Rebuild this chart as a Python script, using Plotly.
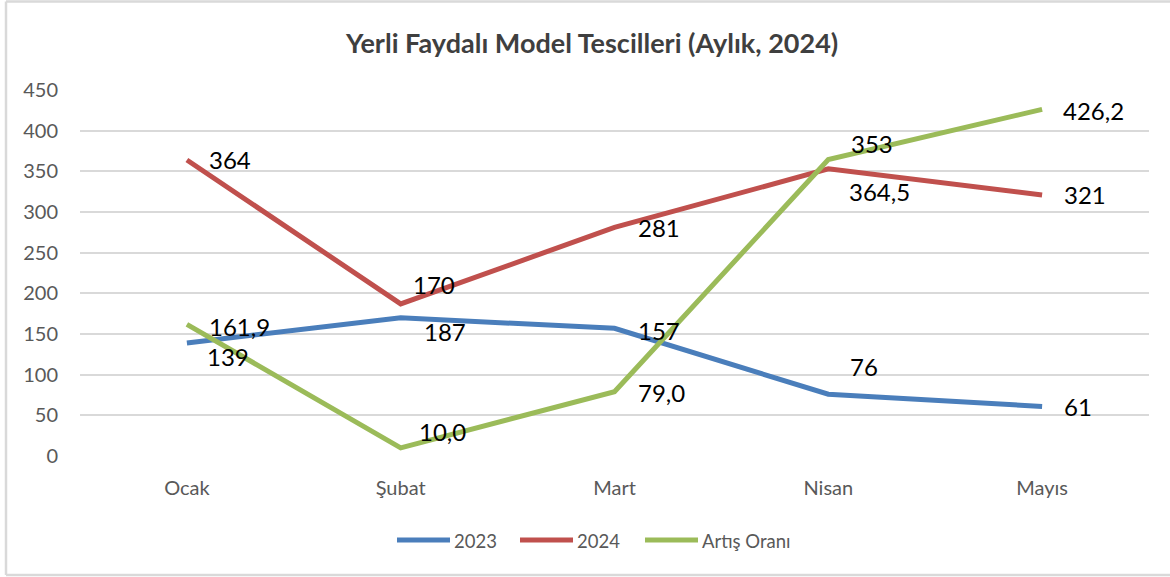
import plotly.graph_objects as go

months = ["Ocak", "Şubat", "Mart", "Nisan", "Mayıs"]
s2023 = [139, 170, 157, 76, 61]
s2024 = [364, 187, 281, 353, 321]
artis = [161.9, 10.0, 79.0, 364.5, 426.2]
lbl2023 = ["139", "187", "157", "76", "61"]
lbl2024 = ["364", "170", "281", "353", "321"]
lblArtis = ["161,9", "10,0", "79,0", "364,5", "426,2"]
yticks = [0, 50, 100, 150, 200, 250, 300, 350, 400, 450]

W, H = 1170, 577
L, R, T, B = 80, 21, 90, 121
PW, PH = W - L - R, H - T - B

def px(x):
    return (x - L) / PW

def py(y):
    return (H - B - y) / PH

FONT = "Lato"
series = [
    ("2023", s2023, lbl2023, "#4a7ebb", [(20, -14), (23, -14), (23, -2), (22, 28), (22, 0)]),
    ("2024", s2024, lbl2024, "#c0504d", [(22, 0), (12, 19), (23, 0), (23, 25), (22, 0)]),
    ("Artış Oranı", artis, lblArtis, "#9bbb59", [(22, -2), (18, 16), (23, -1), (21, -32), (21, -1)]),
]

fig = go.Figure()
annotations = []
for name, vals, lbls, color, offs in series:
    fig.add_trace(go.Scatter(
        x=months, y=vals, mode="lines", name=name,
        line=dict(color=color, width=5), showlegend=False,
    ))
    for m, v, t, (dx, dy) in zip(months, vals, lbls, offs):
        annotations.append(dict(
            x=m, y=v, xref="x", yref="y", text=t, showarrow=False,
            xanchor="left", yanchor="middle", xshift=dx - 2, yshift=dy,
            font=dict(family=FONT, size=24, color="#000000"),
        ))

# manual legend
legend_items = [("2023", "#4a7ebb", 397, 450, 452), ("2024", "#c0504d", 520, 573, 575),
                ("Artış Oranı", "#9bbb59", 645, 698, 700)]
shapes = []
for name, color, x0, x1, tx in legend_items:
    shapes.append(dict(type="line", xref="paper", yref="paper",
                       x0=px(x0), x1=px(x1), y0=py(540), y1=py(540),
                       line=dict(color=color, width=5)))
    annotations.append(dict(x=px(tx), y=py(541), xref="paper", yref="paper",
                            text=name, showarrow=False, xanchor="left", yanchor="middle",
                            font=dict(family=FONT, size=18.5, color="#595959")))

# chart border: top, left, bottom edges only
border = dict(color="#d9d9d9", width=2.5)
for (x0, y0, x1, y1) in [(6, 1.5, 1170, 1.5), (6, 1.5, 6, 575), (6, 575, 1170, 575)]:
    shapes.append(dict(type="line", xref="paper", yref="paper",
                       x0=px(x0), y0=py(y0), x1=px(x1), y1=py(y1),
                       line=border, layer="below"))

annotations.append(dict(x=px(591), y=py(42), xref="paper", yref="paper",
                        text="<b>Yerli Faydalı Model Tescilleri (Aylık, 2024)</b>",
                        showarrow=False, xanchor="center", yanchor="middle",
                        font=dict(family=FONT, size=27, color="#3f3f3f")))

fig.update_layout(
    width=W, height=H,
    margin=dict(l=L, r=R, t=T, b=B),
    paper_bgcolor="white", plot_bgcolor="white",
    annotations=annotations, shapes=shapes,
    xaxis=dict(showgrid=False, showline=False, zeroline=False, range=[-0.5, 4.5],
               tickfont=dict(family=FONT, size=20, color="#595959"),
               ticklabelstandoff=18, fixedrange=True),
    yaxis=dict(range=[0, 450], tickvals=yticks, showgrid=True, gridcolor="#d9d9d9",
               gridwidth=2, zeroline=False, showline=False,
               tickfont=dict(family=FONT, size=20, color="#595959"),
               ticklabelstandoff=21, fixedrange=True),
)

fig.write_html("out.html", config={"displayModeBar": False},
               post_script="document.body.style.margin='0px';document.body.style.overflow='hidden';")
